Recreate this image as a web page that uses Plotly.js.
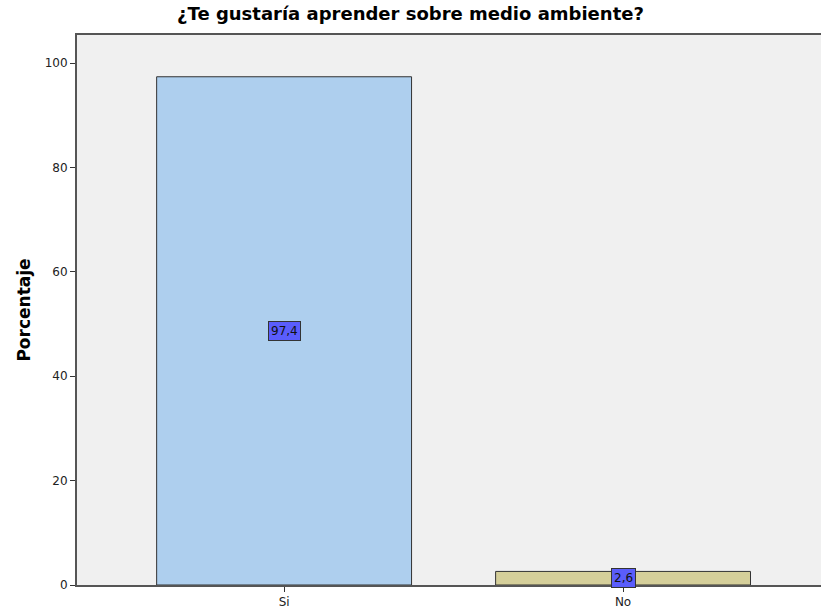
<!DOCTYPE html>
<html>
<head>
<meta charset="utf-8">
<script src="https://cdn.plot.ly/plotly-3.0.1.min.js"></script>
<style>html,body{margin:0;padding:0;background:#fff;}#chart{width:821px;height:613px;}</style>
</head>
<body>
<div id="chart"></div>
<script>
const categories = ["Si", "No"];
const percentages = [97.4, 2.6];
const barColors = ["#aecfee", "#d5cf9a"];
const yTicks = [0, 20, 40, 60, 80, 100];

const fmt = v => v.toFixed(1).replace('.', ',');
const FONT = 'DejaVu Sans, Arial, sans-serif';

const trace = {
  type: 'bar',
  x: categories,
  y: percentages,
  width: 0.752,
  marker: { color: barColors, line: { color: '#333333', width: 1 } },
  hoverinfo: 'none'
};

const annotations = categories.map((c, i) => ({
  x: c, y: percentages[i] / 2, xref: 'x', yref: 'y',
  text: fmt(percentages[i]), showarrow: false,
  font: { family: FONT, size: 12, color: '#111' },
  bgcolor: '#5a5dfc', bordercolor: '#333333', borderwidth: 1, borderpad: 2
}));

const layout = {
  width: 821, height: 613,
  margin: { l: 77, r: 0, t: 35, b: 28 },
  paper_bgcolor: '#ffffff',
  plot_bgcolor: '#f0f0f0',
  showlegend: false,
  bargap: 0,
  title: {
    text: '<b>¿Te gustaría aprender sobre medio ambiente?</b>',
    font: { family: FONT, size: 18, color: '#000' },
    x: 0.5, xanchor: 'center', y: 0.988, yanchor: 'top'
  },
  xaxis: {
    type: 'category',
    range: [-0.611, 1.584],
    showline: true, linecolor: '#555555', linewidth: 2, mirror: true,
    ticks: 'outside', ticklen: 5, tickcolor: '#333', tickwidth: 1,
    showgrid: false, zeroline: false,
    tickfont: { family: FONT, size: 12, color: '#222' },
    fixedrange: true
  },
  yaxis: {
    range: [0, 105.4],
    tickvals: yTicks,
    ticktext: yTicks.map(String),
    showline: true, linecolor: '#555555', linewidth: 2,
    ticks: 'outside', ticklen: 5, tickcolor: '#333', tickwidth: 1,
    showgrid: false, zeroline: false,
    tickfont: { family: FONT, size: 12, color: '#222' },
    title: { text: '<b>Porcentaje</b>', font: { family: FONT, size: 17, color: '#000' }, standoff: 10 },
    fixedrange: true
  },
  annotations: annotations
};

Plotly.newPlot('chart', [trace], layout, { displayModeBar: false, staticPlot: true });
</script>
</body>
</html>
